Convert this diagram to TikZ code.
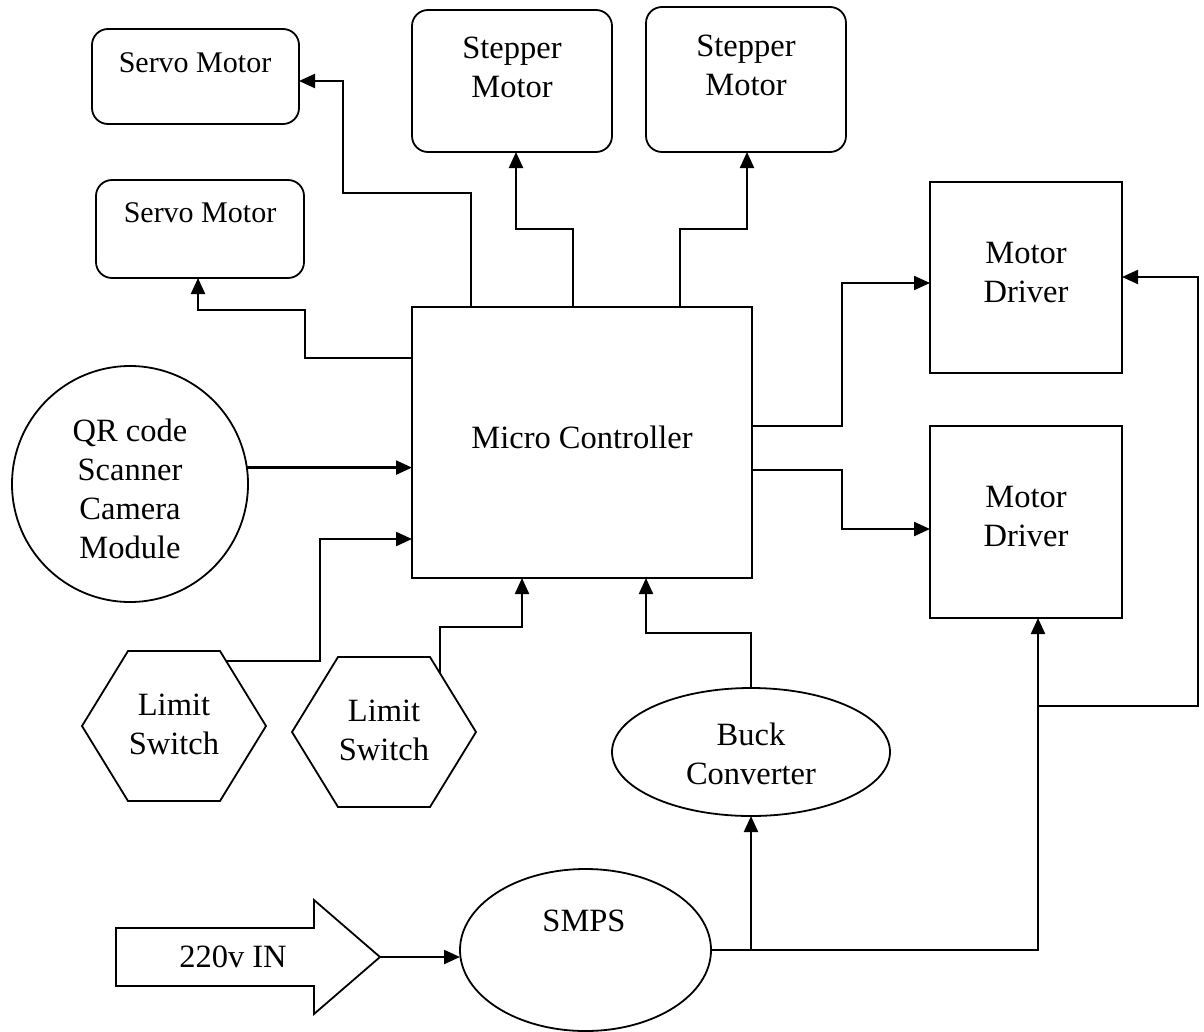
\documentclass[tikz,border=0pt]{standalone}
\usepackage{fontspec}
\setmainfont{Liberation Serif}
\usetikzlibrary{shapes.geometric, arrows.meta}
\begin{document}
\begin{tikzpicture}[x=1pt, y=-1pt,
  shp/.style={draw, line width=1.8pt, inner sep=0pt, outer sep=0pt},
  rbox/.style={shp, rectangle, rounded corners=16pt},
  sbox/.style={shp, rectangle},
  oval/.style={shp, ellipse},
  conn/.style={line width=2.2pt, -{Triangle[length=16pt,width=14pt]}},
  wire/.style={line width=2.2pt},
  txt/.style={font=\fontsize{32.5}{39}\selectfont, align=center, inner sep=0pt},
  stxt/.style={font=\fontsize{30}{36}\selectfont, align=center, inner sep=0pt}
]
\useasboundingbox (0,0) rectangle (1204,1031);

% shapes
\node[rbox, minimum width=207, minimum height=95] (servo1) at (195.5,76.5) {};
\node[rbox, minimum width=208, minimum height=98] (servo2) at (200,229) {};
\node[rbox, minimum width=200, minimum height=142] (step1) at (512,81) {};
\node[rbox, minimum width=200, minimum height=145] (step2) at (746,79.5) {};
\node[sbox, minimum width=340, minimum height=271] (mc) at (582,442.5) {};
\node[sbox, minimum width=192, minimum height=191] (md1) at (1026,277.5) {};
\node[sbox, minimum width=192, minimum height=192] (md2) at (1026,522) {};
\node[shp, circle, minimum size=236] (qr) at (130,484) {};
\node[oval, minimum width=278, minimum height=128] (buck) at (751,752) {};
\node[oval, minimum width=251, minimum height=162] (smps) at (585.5,950) {};

\draw[shp] (82,726) -- (128,651) -- (220,651) -- (266,726) -- (220,801) -- (128,801) -- cycle;
\draw[shp] (292,732) -- (338,657) -- (430,657) -- (476,732) -- (430,807) -- (338,807) -- cycle;
\draw[shp] (116,928) -- (314,928) -- (314,900) -- (380,957) -- (314,1014) -- (314,986) -- (116,986) -- cycle;
\coordinate (ls1c) at (226,661);
\coordinate (ls2c) at (440,673);
\coordinate (intip) at (380,957);
\coordinate (jb) at (751,950);
\coordinate (jm) at (1038,706);

% texts
\node[stxt] (t-servo1) at (195,63) {Servo Motor};
\node[stxt] (t-servo2) at (200,213) {Servo Motor};
\node[txt] (t-step1) at (512,67) {Stepper\\Motor};
\node[txt] (t-step2) at (746,65) {Stepper\\Motor};
\node[txt] (t-mc) at (582,437) {Micro Controller};
\node[txt] (t-md1) at (1026,273) {Motor\\Driver};
\node[txt] (t-md2) at (1026,517) {Motor\\Driver};
\node[txt] (t-qr) at (130,489) {QR code\\Scanner\\Camera\\Module};
\node[txt] (t-ls1) at (174,724) {Limit\\Switch};
\node[txt] (t-ls2) at (384,730) {Limit\\Switch};
\node[txt] (t-buck) at (751,754) {Buck\\Converter};
\node[txt] (t-smps) at (584,921) {SMPS};
\node[txt] (t-in) at (233,957) {220v IN};

% connectors
\draw[conn] (mc.north -| 471,0) -- (471,193) -- (343,193) -- (343,81) -- (servo1.east |- 0,81);
\draw[conn] (mc.west |- 0,358) -- (305,358) -- (305,310) -- (198,310) -- (servo2.south -| 198,0);
\draw[conn] (mc.north -| 573,0) -- (573,229) -- (516,229) -- (step1.south -| 516,0);
\draw[conn] (mc.north -| 680,0) -- (680,229) -- (747,229) -- (step2.south -| 747,0);
\draw[conn] (qr.8) -- (mc.west |- qr.8);
\draw[conn] (ls1c) -- (320,661) -- (320,539) -- (mc.west |- 0,539);
\draw[conn] (ls2c) -- (440,627) -- (522,627) -- (mc.south -| 522,0);
\draw[conn] (buck.north) -- (751,633) -- (646,633) -- (mc.south -| 646,0);
\draw[conn] (mc.east |- 0,426) -- (842,426) -- (842,283) -- (md1.west |- 0,283);
\draw[conn] (mc.east |- 0,470) -- (842,470) -- (842,529) -- (md2.west |- 0,529);
\draw[conn] (intip) -- (smps.west |- intip);
\draw[conn] (smps.east) -- (1038,950) -- (md2.south -| 1038,0);
\draw[conn] (jb) -- (buck.south);
\draw[conn] (jm) -- (1198,706) -- (1198,277) -- (md1.east |- 0,277);
\end{tikzpicture}
\end{document}
